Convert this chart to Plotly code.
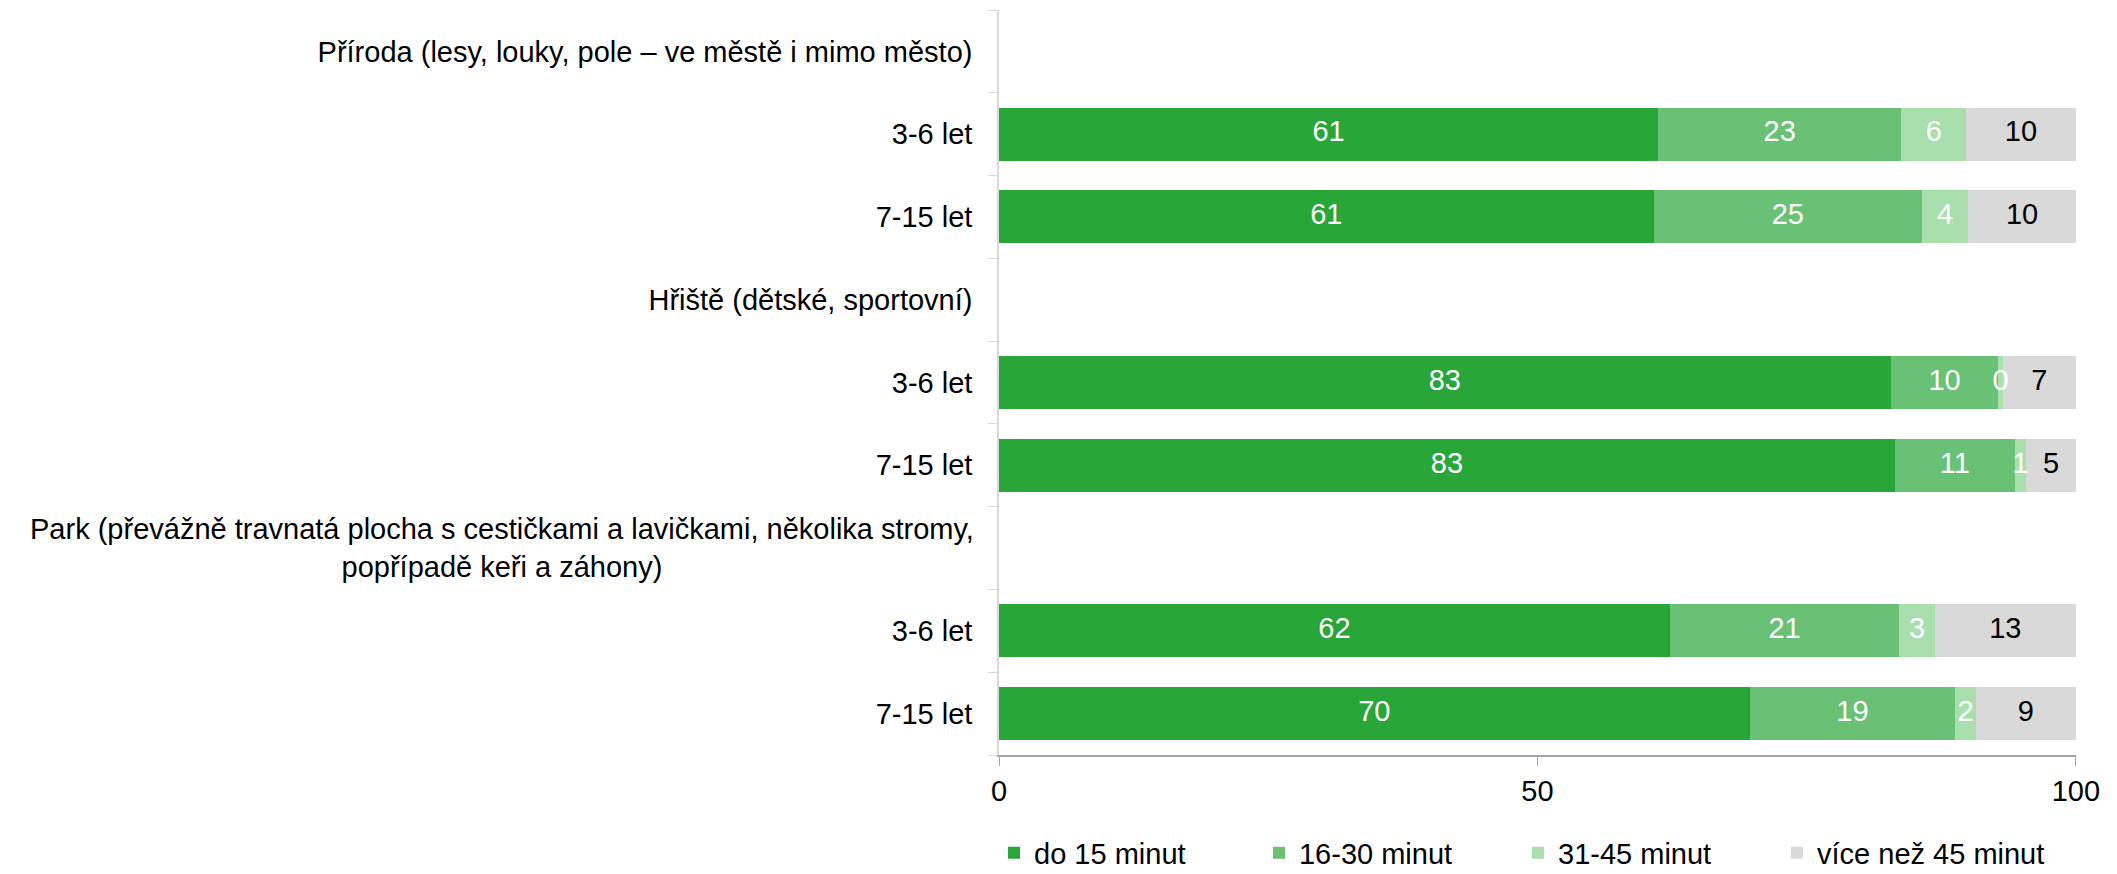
import plotly.graph_objects as go

# Row keys (top to bottom) and their displayed labels
row_keys = ["H_priroda", "priroda_36", "priroda_715",
            "H_hriste", "hriste_36", "hriste_715",
            "H_park", "park_36", "park_715"]
row_labels = ["Příroda (lesy, louky, pole – ve městě i mimo město)", "3-6 let", "7-15 let",
              "Hřiště (dětské, sportovní)", "3-6 let", "7-15 let",
              "", "3-6 let", "7-15 let"]
park_label = "Park (převážně travnatá plocha s cestičkami a lavičkami, několika stromy,<br>popřípadě keři a záhony)"

series_names = ["do 15 minut", "16-30 minut", "31-45 minut", "více než 45 minut"]
do_15 = [None, 61.2, 60.8, None, 82.8, 83.2, None, 62.3, 69.7]
m16_30 = [None, 22.6, 24.9, None, 10.0, 11.1, None, 21.3, 19.1]
m31_45 = [None, 6.0, 4.3, None, 0.4, 1.1, None, 3.3, 1.9]
nad_45 = [None, 10.2, 10.0, None, 6.8, 4.6, None, 13.1, 9.3]

x_ticks = [0, 50, 100]

colors = ["#28A638", "#68C174", "#A8DFAD", "#D9D9D9"]
text_colors = ["#FFFFFF", "#FFFFFF", "#FFFFFF", "#000000"]
FONT = "Liberation Sans, Arial, sans-serif"
FS = 29

# The page adds an 8px body margin; the figure is sized/positioned to compensate.
W, H = 2109, 866

all_series = [do_15, m16_30, m31_45, nad_45]
legend_ids = ["legend", "legend2", "legend3", "legend4"]
legend_x = [-0.0046, 0.2414, 0.4819, 0.7224]

fig = go.Figure()
for name, vals, col, lid in zip(series_names, all_series, colors, legend_ids):
    fig.add_trace(go.Bar(
        y=row_keys, x=vals, name=name, orientation="h",
        marker=dict(color=col, line=dict(width=0)),
        hoverinfo="skip", legend=lid,
    ))

# Data labels drawn above all bars (centre of each stacked segment)
base = [0.0 if v is not None else None for v in do_15]
for vals, tcol in zip(all_series, text_colors):
    xs, ys, ts = [], [], []
    for i, v in enumerate(vals):
        if v is None:
            continue
        xs.append(base[i] + v / 2)
        ys.append(row_keys[i])
        ts.append(f"{v:.0f}")
        base[i] += v
    fig.add_trace(go.Scatter(
        x=xs, y=ys, text=ts, mode="text", textposition="middle center",
        textfont=dict(family=FONT, size=FS, color=tcol),
        showlegend=False, hoverinfo="skip", cliponaxis=False,
    ))

legend_common = dict(orientation="h", xanchor="left",
                     yref="container", y=(H - 845) / H, yanchor="middle",
                     font=dict(family=FONT, size=FS, color="#000000"),
                     bgcolor="rgba(0,0,0,0)")
fig.update_layout(
    width=W, height=H,
    barmode="stack", bargap=0.36,
    plot_bgcolor="white", paper_bgcolor="white",
    margin=dict(l=991, r=41, t=2, b=119, autoexpand=False),
    font=dict(family=FONT, size=FS, color="#000000"),
    showlegend=True,
    legend=dict(x=legend_x[0], **legend_common),
    legend2=dict(x=legend_x[1], **legend_common),
    legend3=dict(x=legend_x[2], **legend_common),
    legend4=dict(x=legend_x[3], **legend_common),
)
fig.update_yaxes(
    type="category", categoryorder="array", categoryarray=row_keys,
    autorange="reversed",
    tickmode="array", tickvals=row_keys, ticktext=row_labels,
    tickson="boundaries", ticks="outside", ticklen=9, tickcolor="#D9D9D9",
    showline=True, linecolor="#D9D9D9", linewidth=1.5,
    showgrid=False, ticklabelstandoff=19,
    tickfont=dict(family=FONT, size=FS, color="#000000"),
)
fig.update_xaxes(
    range=[0, 100.01], tickvals=x_ticks, ticks="outside", ticklen=9,
    tickcolor="#A6A6A6", showline=True, linecolor="#A6A6A6", linewidth=1.5,
    showgrid=False, zeroline=False,
    tickfont=dict(family=FONT, size=FS, color="#000000"),
)
fig.add_annotation(
    xref="paper", yref="y", x=0, y="H_park", xanchor="right", yanchor="middle",
    xshift=-23, text=park_label, align="center", showarrow=False,
    font=dict(family=FONT, size=FS, color="#000000"),
)

fig.write_html("out.html")
